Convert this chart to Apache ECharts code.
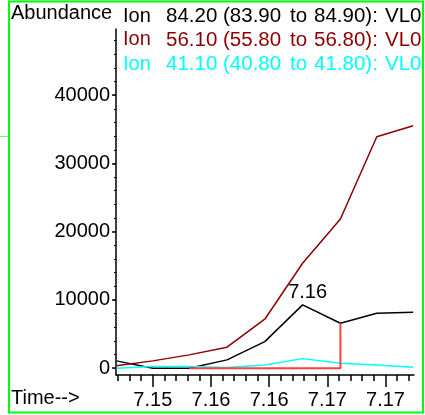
<!DOCTYPE html>
<html>
<head>
<meta charset="utf-8">
<script src="https://cdn.jsdelivr.net/npm/echarts@6/dist/echarts.min.js"></script>
<style>
html,body{margin:0;padding:0;background:#fff;}
#c{width:425px;height:415px;}
</style>
</head>
<body>
<div id="c"></div>
<script>
// ---- data ----
var times      = [7.1515, 7.1540, 7.1565, 7.1591, 7.1617, 7.1643, 7.1669, 7.1694, 7.1719];
var ion842     = [1070, 0, 0, 1215, 3895, 9270, 6590, 8050, 8200];
var ion561     = [340, 1070, 1950, 3075, 7175, 15370, 21860, 33910, 35520];
var ion411     = [0, 230, 230, 90, 480, 1400, 730, 480, 150];
var integTimes = [7.1565, 7.1669, 7.1669];
var integVals  = [0, 0, 6590];
var peakIndex  = 5;
var peakLabel  = '7.16';
var xTickValues = [7.154, 7.158, 7.162, 7.166, 7.170];
var xTickLabels = ['7.15', '7.16', '7.16', '7.17', '7.17'];
var xMinorStep  = 0.0008;
var yTickValues = [0, 10000, 20000, 30000, 40000];
var yTickLabels = ['0', '10000', '20000', '30000', '40000'];
var yMinorStep  = 2000;
var legendNames = ['84.20 (83.90 to 84.90): VL0', '56.10 (55.80 to 56.80): VL0', '41.10 (40.80 to 41.80): VL0'];
var colors = ['#000000', '#8b0000', '#00ffff'];

var xMin = 7.15147, xMax = 7.17196;
var yMin = -1000, yMax = 49700;

function pairs(xs, ys) { return xs.map(function (x, i) { return [x, ys[i]]; }); }

var xMinor = [];
for (var v = xTickValues[0] - 3 * xMinorStep; v <= xMax; v += xMinorStep) {
  if (v >= xMin) xMinor.push(+v.toFixed(5));
}
var yMinor = [];
for (var w = 0; w <= 48000; w += yMinorStep) yMinor.push(w);

var FONT = 'Liberation Sans, Arial, sans-serif';

var blackData = pairs(times, ion842);
blackData[peakIndex] = {
  value: blackData[peakIndex],
  label: { show: true, formatter: peakLabel, position: 'top', distance: 2, offset: [5, 0],
           fontSize: 20, fontFamily: FONT, color: '#000' }
};

var chart = echarts.init(document.getElementById('c'), null, { renderer: 'canvas' });

var gridPos = { left: 116, right: 11, top: 29, bottom: 40 };

var legendGraphics = [
  { type: 'text', left: 11, top: 3, style: { text: 'Abundance', font: '20px ' + FONT, fill: '#000' } }
];
var legendY = [6, 29.5, 54];
var wordX = [166, 223, 290, 314, 385];
legendNames.forEach(function (n, i) {
  legendGraphics.push({ type: 'text', left: 123, top: legendY[i], style: { text: 'Ion', font: '20px ' + FONT, fill: colors[i] } });
  n.split(' ').forEach(function (word, j) {
    legendGraphics.push({ type: 'text', left: wordX[j], top: legendY[i], style: { text: word, font: '20.5px ' + FONT, fill: colors[i] } });
  });
});
legendGraphics.push({ type: 'text', left: 11, top: 388.5, style: { text: 'Time-->', font: '20px ' + FONT, fill: '#000' } });
legendGraphics.push({ type: 'rect', shape: { x: 9, y: 1.5, width: 414, height: 411 }, style: { fill: 'none', stroke: '#00ff00', lineWidth: 2 }, z: 100 });
legendGraphics.push({ type: 'line', shape: { x1: 0, y1: 136.5, x2: 8, y2: 136.5 }, style: { stroke: '#66ff66', lineWidth: 1 } });

chart.setOption({
  animation: false,
  grid: gridPos,
  xAxis: [
    {
      type: 'value', min: xMin, max: xMax,
      axisLine: { show: true, onZero: false, lineStyle: { color: '#000', width: 1.5 } },
      axisTick: { show: true, customValues: xTickValues, length: 12, inside: false, lineStyle: { color: '#000', width: 1.5 } },
      axisLabel: {
        show: true, customValues: xTickValues, margin: 15,
        fontSize: 20, fontFamily: FONT, color: '#000',
        formatter: function (val) {
          for (var i = 0; i < xTickValues.length; i++) if (Math.abs(xTickValues[i] - val) < 1e-6) return xTickLabels[i];
          return '';
        }
      },
      splitLine: { show: false }
    },
    {
      type: 'value', min: xMin, max: xMax, position: 'bottom',
      axisLine: { show: false, onZero: false },
      axisTick: { show: true, customValues: xMinor, length: 6, lineStyle: { color: '#000', width: 1.5 } },
      axisLabel: { show: false },
      splitLine: { show: false }
    }
  ],
  yAxis: [
    {
      type: 'value', min: yMin, max: yMax,
      axisLine: { show: true, onZero: false, lineStyle: { color: '#000', width: 1.5 } },
      axisTick: { show: true, customValues: yTickValues, length: 4, lineStyle: { color: '#000', width: 1.5 } },
      axisLabel: {
        show: true, customValues: yTickValues, margin: 6,
        fontSize: 20, fontFamily: FONT, color: '#000',
        formatter: function (val) {
          var i = yTickValues.indexOf(val);
          return i >= 0 ? yTickLabels[i] : '';
        }
      },
      splitLine: { show: false }
    },
    {
      type: 'value', min: yMin, max: yMax, position: 'left',
      axisLine: { show: false, onZero: false },
      axisTick: { show: true, customValues: yMinor, length: 2, lineStyle: { color: '#000', width: 1 } },
      axisLabel: { show: false },
      splitLine: { show: false }
    }
  ],
  graphic: legendGraphics,
  series: [
    { type: 'line', data: blackData, symbol: 'circle', symbolSize: 0, showSymbol: true, lineStyle: { color: colors[0], width: 1.5 }, itemStyle: { color: colors[0] }, label: { show: false }, z: 2 },
    { type: 'line', data: pairs(times, ion561), symbol: 'none', lineStyle: { color: colors[1], width: 1.5 }, itemStyle: { color: colors[1] }, z: 2 },
    { type: 'line', data: pairs(times, ion411), symbol: 'none', lineStyle: { color: colors[2], width: 1.5 }, itemStyle: { color: colors[2] }, z: 3 },
    { type: 'line', data: pairs(integTimes, integVals), symbol: 'none', lineStyle: { color: '#ff4040', width: 2 }, itemStyle: { color: '#ff4040' }, z: 4 }
  ]
});
</script>
</body>
</html>
